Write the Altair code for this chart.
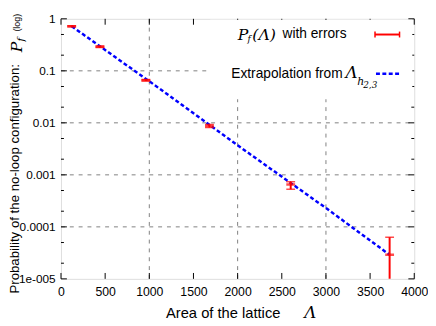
import altair as alt
import pandas as pd

# Measured data (lattice areas and no-loop probabilities)
areas = [121, 441, 961, 1681, 2601, 3721]
prob = [0.72, 0.29, 0.066, 0.0087, 0.00065, 2.9e-5]
prob_lo = [0.70, 0.28, 0.064, 0.0081, 0.00053, 1e-6]
prob_hi = [0.74, 0.30, 0.068, 0.0093, 0.00074, 6.3e-5]

# Extrapolation curve
line_x = [121, 1000, 2000, 3000, 3721]
line_y = [0.72, 0.063, 0.0037, 0.00023, 2.9e-5]

# Axis / grid values
x_ticks = [0, 500, 1000, 1500, 2000, 2500, 3000, 3500, 4000]
x_grid = [1000, 2000, 3000]
y_ticks = [1, 0.1, 0.01, 0.001, 0.0001, 1e-5]
y_grid = [0.1, 0.01, 0.001, 0.0001]
y_minor = [m * 10.0 ** e for e in range(-5, 0) for m in (2, 5)]

W, H = 360, 265
RED = "#ff0000"
BLUE = "#0000ff"
FONT = "Liberation Sans"
SERIF = "DejaVu Serif"

pts = pd.DataFrame({"A": areas, "P": prob, "lo": prob_lo, "hi": prob_hi})
ln = pd.DataFrame({"A": line_x, "P": line_y})

xs = alt.Scale(domain=[0, 4000], nice=False)
ys = alt.Scale(type="log", domain=[1e-5, 1], nice=False, clamp=False)

xax = alt.Axis(values=x_ticks, grid=False, domain=False, ticks=False, title=None, format="d",
               labelFont=FONT, labelFontSize=12.5, labelColor="black",
               labelPadding=7, labelFlush=False)
yax = alt.Axis(values=y_ticks, grid=False, domain=False, ticks=False, title=None,
               labelFont=FONT, labelFontSize=12, labelColor="black",
               labelPadding=6, labelFlush=False,
               labelExpr="datum.value < 0.00005 ? '1e-005' : format(datum.value, '~g')")

X = alt.X("A:Q", scale=xs, axis=xax)
Y = alt.Y("P:Q", scale=ys, axis=yax)

gx = alt.Chart(pd.DataFrame({"A": x_grid})).mark_rule(
    color="#808080", strokeDash=[4, 5], strokeWidth=1).encode(
    x=alt.X("A:Q", scale=xs, axis=xax), y=alt.value(0), y2=alt.value(H))
gy = alt.Chart(pd.DataFrame({"P": y_grid})).mark_rule(
    color="#808080", strokeDash=[4, 5], strokeWidth=1).encode(
    y=alt.Y("P:Q", scale=ys, axis=yax), x=alt.value(0), x2=alt.value(W))

# inward ticks
tdx = pd.DataFrame({"A": x_ticks})
tdy = pd.DataFrame({"P": y_ticks})
tdm = pd.DataFrame({"P": y_minor})
tick_layers = [
    alt.Chart(tdx).mark_rule(color="black").encode(x=alt.X("A:Q", scale=xs), y=alt.value(H), y2=alt.value(H - 6)),
    alt.Chart(tdx).mark_rule(color="black").encode(x=alt.X("A:Q", scale=xs), y=alt.value(0), y2=alt.value(6)),
    alt.Chart(tdy).mark_rule(color="black").encode(y=alt.Y("P:Q", scale=ys), x=alt.value(0), x2=alt.value(6)),
    alt.Chart(tdy).mark_rule(color="black").encode(y=alt.Y("P:Q", scale=ys), x=alt.value(W), x2=alt.value(W - 6)),
    alt.Chart(tdm).mark_rule(color="black").encode(y=alt.Y("P:Q", scale=ys), x=alt.value(0), x2=alt.value(3)),
    alt.Chart(tdm).mark_rule(color="black").encode(y=alt.Y("P:Q", scale=ys), x=alt.value(W), x2=alt.value(W - 3)),
]

legend_bg = alt.Chart(pd.DataFrame({"a": [0]})).mark_rect(color="white").encode(
    x=alt.value(152), x2=alt.value(358), y=alt.value(1), y2=alt.value(82))

line = alt.Chart(ln).mark_line(color=BLUE, strokeWidth=2.5, strokeDash=[4, 2.5], clip=True).encode(
    x=X, y=Y)

err = alt.Chart(pts).mark_rule(color=RED, strokeWidth=2, clip=True).encode(
    x=X, y=alt.Y("lo:Q", scale=ys), y2="hi:Q")
cap_hi = alt.Chart(pts).mark_tick(color=RED, orient="horizontal", size=9, thickness=1.5, clip=True).encode(
    x=X, y=alt.Y("hi:Q", scale=ys))
cap_lo = alt.Chart(pts).mark_tick(color=RED, orient="horizontal", size=9, thickness=1.5, clip=True).encode(
    x=X, y=alt.Y("lo:Q", scale=ys))
center = alt.Chart(pts).mark_tick(color=RED, orient="horizontal", size=9, thickness=2.5, clip=True).encode(
    x=X, y=Y)

one = pd.DataFrame({"a": [0]})

def txt(s, x, y, font=FONT, size=13, align="left", style="normal", angle=0, baseline="middle"):
    return alt.Chart(one).mark_text(text=s, font=font, fontSize=size, align=align, fontStyle=style,
                                    angle=angle, baseline=baseline, color="black").encode(
        x=alt.value(x), y=alt.value(y))

legend = [
    txt("P", 180, 17, font=SERIF, size=16, style="italic"),
    txt("f", 190, 21, font=SERIF, size=9, style="italic"),
    txt("(Λ)", 195, 17, font=SERIF, size=16, style="italic"),
    txt("with errors", 291, 16, size=14, align="right"),
    alt.Chart(one).mark_rule(color=RED, strokeWidth=2).encode(x=alt.value(320), x2=alt.value(345), y=alt.value(16)),
    alt.Chart(one).mark_rule(color=RED, strokeWidth=1.5).encode(x=alt.value(320), y=alt.value(13), y2=alt.value(19)),
    alt.Chart(one).mark_rule(color=RED, strokeWidth=1.5).encode(x=alt.value(345), y=alt.value(13), y2=alt.value(19)),
    txt("Extrapolation from", 287, 56, size=14, align="right"),
    txt("Λ", 290, 55, font=SERIF, size=17, style="italic"),
    txt("h", 302, 64, font=SERIF, size=11, style="italic"),
    txt("2,3", 308, 67, font=SERIF, size=9, style="italic"),
    alt.Chart(one).mark_rule(color=BLUE, strokeWidth=2.5, strokeDash=[4, 2.5]).encode(
        x=alt.value(321), x2=alt.value(346), y=alt.value(56)),
]

titles = [
    txt("Area of the lattice", 107, 300, size=15),
    txt("Λ", 248, 300, font=SERIF, size=17, style="italic"),
    txt("Probability of the no-loop configuration:", -47, 280, size=13.5, angle=270),
    txt("P", -45, 34, font=SERIF, size=16, style="italic", angle=270),
    txt("f", -41, 23, font=SERIF, size=10, style="italic", angle=270),
    txt("(log)", -45, 13, size=9, angle=270),
]

chart = alt.layer(gx, gy, *tick_layers, legend_bg, line, err, cap_hi, cap_lo, center,
                  *legend, *titles).properties(
    width=W, height=H,
    autosize=alt.AutoSizeParams(type="none"),
    padding={"left": 54, "top": 8, "right": 14, "bottom": 45},
).configure_view(stroke="black", strokeWidth=1.5).configure(background="white")

chart.save("out.html", embed_options={"renderer": "svg", "actions": False})
